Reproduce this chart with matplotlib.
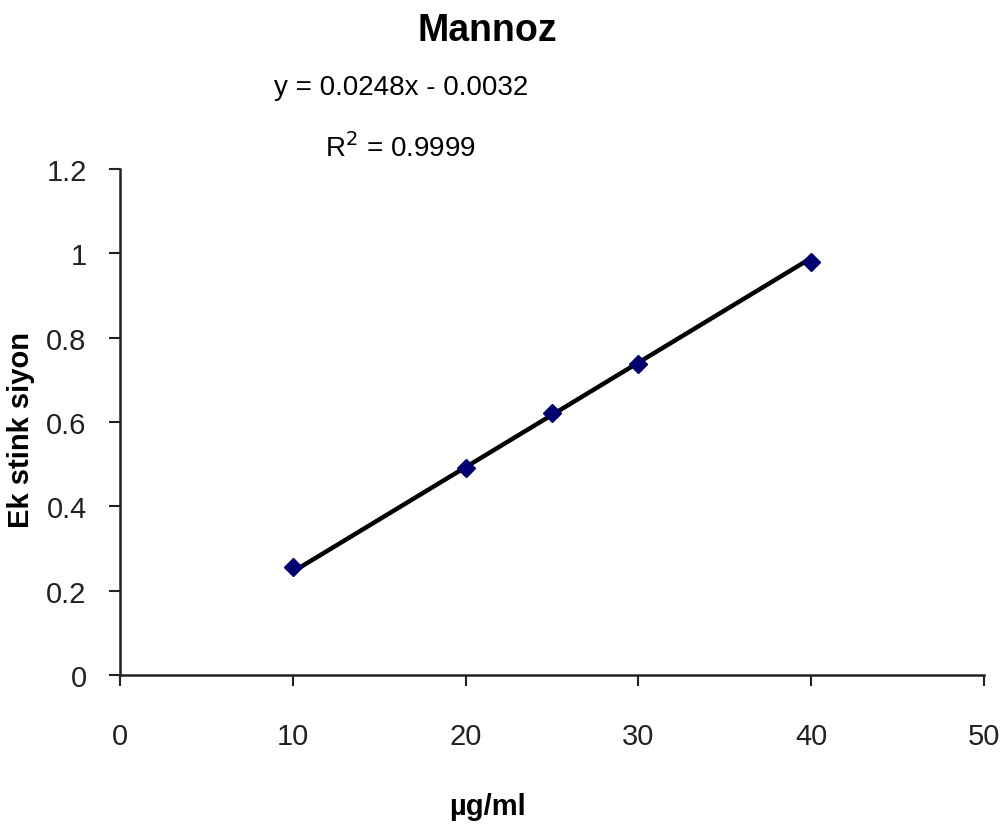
import numpy as np
import matplotlib.pyplot as plt
from matplotlib import font_manager

conc = [10, 20, 25, 30, 40]
absorb = [0.256, 0.491, 0.621, 0.738, 0.979]
slope = 0.0248
intercept = -0.0032
r2 = 0.9999

names = {f.name for f in font_manager.fontManager.ttflist}
fam = [n for n in ['Liberation Sans Narrow', 'Liberation Sans', 'DejaVu Sans'] if n in names]
plt.rcParams['font.family'] = fam

fig = plt.figure(figsize=(10.02, 8.37), dpi=100)
ax = fig.add_axes([0.1198, 0.1924, 0.982 - 0.1198, 0.7969 - 0.1924])

xfit = np.array([conc[0], conc[-1]])
ax.plot(xfit, slope*xfit + intercept, color='black', lw=3.2, zorder=2)
ax.plot(conc, absorb, 'D', color='#000070', ms=9, zorder=3)

ax.set_xlim(0, 50)
ax.set_ylim(0, 1.2)
ax.set_xticks(np.arange(0, 51, 10))
ax.set_yticks(np.arange(0, 1.21, 0.2))
ax.set_yticklabels(['0', '0.2', '0.4', '0.6', '0.8', '1', '1.2'])
ax.tick_params(direction='out', length=8, width=1.5, labelsize=21, colors='#222222')
ax.tick_params(axis='x', pad=26)
ax.tick_params(axis='y', pad=16)
for s in ['top', 'right']:
    ax.spines[s].set_visible(False)
for s in ['left', 'bottom']:
    ax.spines[s].set_linewidth(1.8)
    ax.spines[s].set_color('#222222')

fig.text(0.4865, 0.963, 'Mannoz', ha='center', va='center', fontsize=27, fontweight='bold')
fig.text(0.4005, 0.895, f'y = {slope}x - {abs(intercept):.4f}', ha='center', va='center', fontsize=20)
fig.text(0.4, 0.823, f'R$^2$ = {r2}', ha='center', va='center', fontsize=20)
ax.set_xlabel('µg/ml', fontsize=21, fontweight='bold')
ax.set_ylabel('Ek stink siyon', fontsize=21, fontweight='bold')
ax.xaxis.set_label_coords(0.425, -0.259)
ax.yaxis.set_label_coords(-0.115, 0.486)
ax.xaxis.label.set_va('center')
ax.yaxis.label.set_va('center')

fig.savefig('out.png', dpi=100)
